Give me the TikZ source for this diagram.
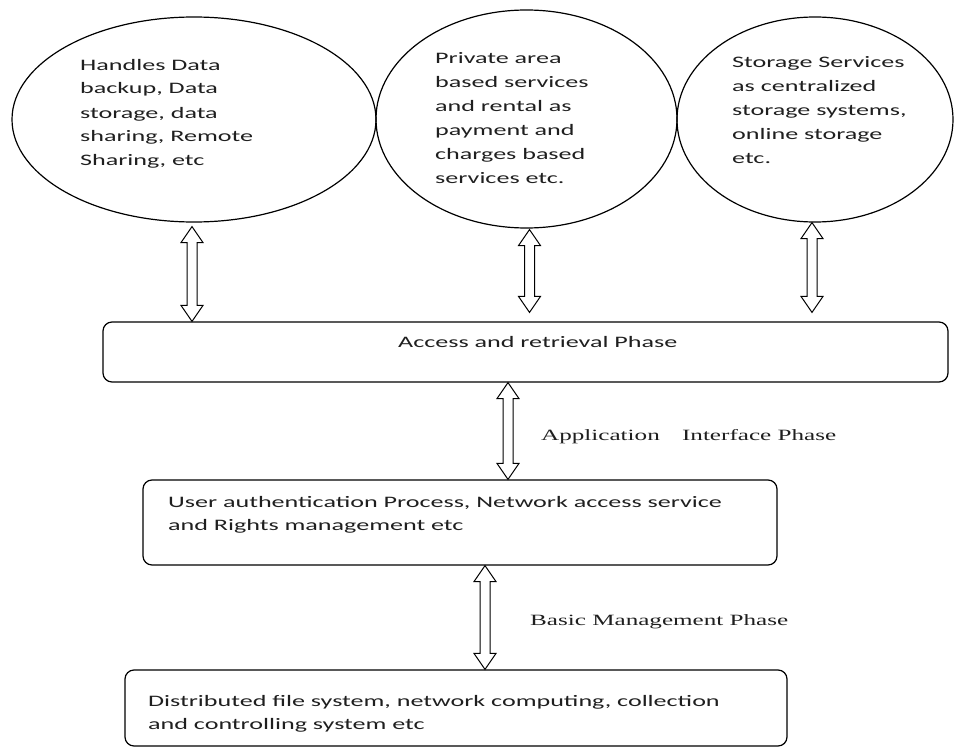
\documentclass[tikz,border=0pt]{standalone}
\usepackage{fontspec}
\usetikzlibrary{shapes.geometric, calc}
\newfontfamily\calfont[FakeStretch=1.63]{Carlito}
\newfontfamily\serfont[FakeStretch=1.6]{Liberation Serif}

%% hollow two-headed vertical arrow between two points
\newcommand{\dblarrow}[2]{%
  \draw[dblarr] let \p1=#1, \p2=#2 in
    (\x1,\y1) -- (\x1+11pt,\y1-16pt) -- (\x1+5pt,\y1-16pt)
    -- (\x1+5pt,\y2+16pt) -- (\x1+11pt,\y2+16pt) -- (\x1,\y2)
    -- (\x1-11pt,\y2+16pt) -- (\x1-5pt,\y2+16pt)
    -- (\x1-5pt,\y1-16pt) -- (\x1-11pt,\y1-16pt) -- cycle;}

\begin{document}
\begin{tikzpicture}[
  x=1pt, y=-1pt,
  %% shape styles
  service/.style={ellipse, draw, line width=1.2pt, inner sep=0pt},
  phase/.style={rectangle, draw, line width=1.2pt, rounded corners=9pt, inner sep=0pt},
  %% text styles (placed at the baseline of their last line)
  ctext/.style={font=\calfont\fontsize{16}{24}\selectfont, align=left,
    anchor=base west, inner sep=0pt, text=black!88},
  btext/.style={ctext, font=\calfont\fontsize{16}{23.5}\selectfont},
  plabel/.style={font=\serfont\fontsize{15.7}{19}\selectfont,
    anchor=base west, inner sep=0pt, text=black!88},
  dblarr/.style={draw=black, line width=1pt, fill=white, line join=miter}
]
\useasboundingbox (0,0) rectangle (954,749);

%% ── Top row: service circles ────────────────────────────────────────
\node[service, minimum width=364, minimum height=205] (c1) at (194,119.5) {};
\node[service, minimum width=301, minimum height=218] (c2) at (526.5,119) {};
\node[service, minimum width=276, minimum height=205] (c3) at (815,119.5) {};

\node[ctext] (c1txt) at (80,166) {Handles Data\\backup, Data\\storage, data\\sharing, Remote\\Sharing, etc};
\node[ctext] (c2txt) at (435,184) {Private area\\based services\\and rental as\\payment and\\charges based\\services etc.};
\node[ctext] (c3txt) at (732,164) {Storage Services\\as centralized\\storage systems,\\online storage\\etc.};

%% ── Phase boxes ─────────────────────────────────────────────────────
\node[phase, minimum width=845, minimum height=60] (access) at (525.5,352) {};
\node[phase, minimum width=634, minimum height=85] (auth) at (460,522.5) {};
\node[phase, minimum width=662, minimum height=76] (dfs) at (456,708) {};

\node[btext] (accesstxt) at (398,347) {Access and retrieval Phase};
\node[btext] (authtxt) at (168,530.5) {User authentication Process, Network access service\\and Rights management etc};
\node[btext] (dfstxt) at (148,729.5) {Distributed file system, network computing, collection\\and controlling system etc};

%% ── Phase labels ────────────────────────────────────────────────────
\node[plabel] (applbl) at (541,440) {Application\hspace{16pt} Interface Phase};
\node[plabel] (baslbl) at (530,625) {Basic Management Phase};

%% ── Arrows ──────────────────────────────────────────────────────────
\dblarrow{($(c1.south)+(-2,4)$)}{(c1.south |- access.north)}
\dblarrow{($(c2.south)+(3,1)$)}{($(c2.south |- access.north)+(0,-9)$)}
\dblarrow{($(c3.south)+(-3,0)$)}{($(c3.south |- access.north)+(0,-9)$)}
\dblarrow{($(access.south)+(-17.5,0)$)}{(auth.north)}
\dblarrow{($(auth.south)+(25,0)$)}{(dfs.north)}

\end{tikzpicture}
\end{document}
